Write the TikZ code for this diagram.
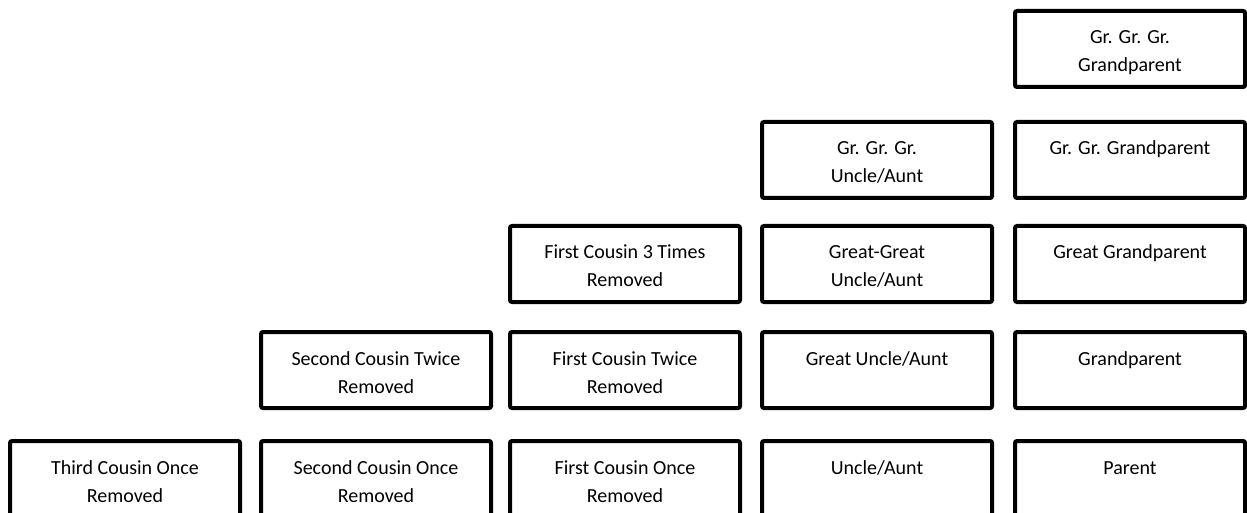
\documentclass[tikz,border=0pt]{standalone}
\usepackage{fontspec}
\setmainfont{Carlito}
\usepackage{tikz}
\tikzset{kinbox/.style={shape=rectangle,draw=black,line width=2pt,rounded corners=1pt,
    fill=white,inner sep=0pt,minimum width=115pt,minimum height=38pt,
    font=\fontsize{10}{14}\selectfont}}
\newcommand{\kinbox}[4]{\node[kinbox] (#3) at ( #1 , #2 ) {\parbox[c][38pt][t]{112pt}{\centering\rule{0pt}{16.5pt}#4}};}

\begin{document}
\begin{tikzpicture}[x=0.5pt,y=-0.5pt]
        \useasboundingbox (0,0) rectangle (1247,513);
        \clip (0,0) rectangle (1247,513);
        %direct line
        \kinbox{1130}{49}{gggp}{Gr. Gr. Gr.\\Grandparent}
        \kinbox{1130}{160}{ggp}{Gr. Gr. Grandparent}
        \kinbox{1130}{264}{gp}{Great Grandparent}
        \kinbox{1130}{370}{grandp}{Grandparent}
        \kinbox{1130}{479}{par}{Parent}
        %uncles and aunts
        \kinbox{877}{160}{gggua}{Gr. Gr. Gr.\\Uncle/Aunt}
        \kinbox{877}{264}{ggua}{Great-Great\\Uncle/Aunt}
        \kinbox{877}{370}{gua}{Great Uncle/Aunt}
        \kinbox{877}{479}{ua}{Uncle/Aunt}
        %first cousins
        \kinbox{625}{264}{fc3r}{First Cousin 3 Times\\Removed}
        \kinbox{625}{370}{fc2r}{First Cousin Twice\\Removed}
        \kinbox{625}{479}{fc1r}{First Cousin Once\\Removed}
        %second and third cousins
        \kinbox{376}{370}{sc2r}{Second Cousin Twice\\Removed}
        \kinbox{376}{479}{sc1r}{Second Cousin Once\\Removed}
        \kinbox{125}{479}{tc1r}{Third Cousin Once\\Removed}
\end{tikzpicture}
\end{document}
